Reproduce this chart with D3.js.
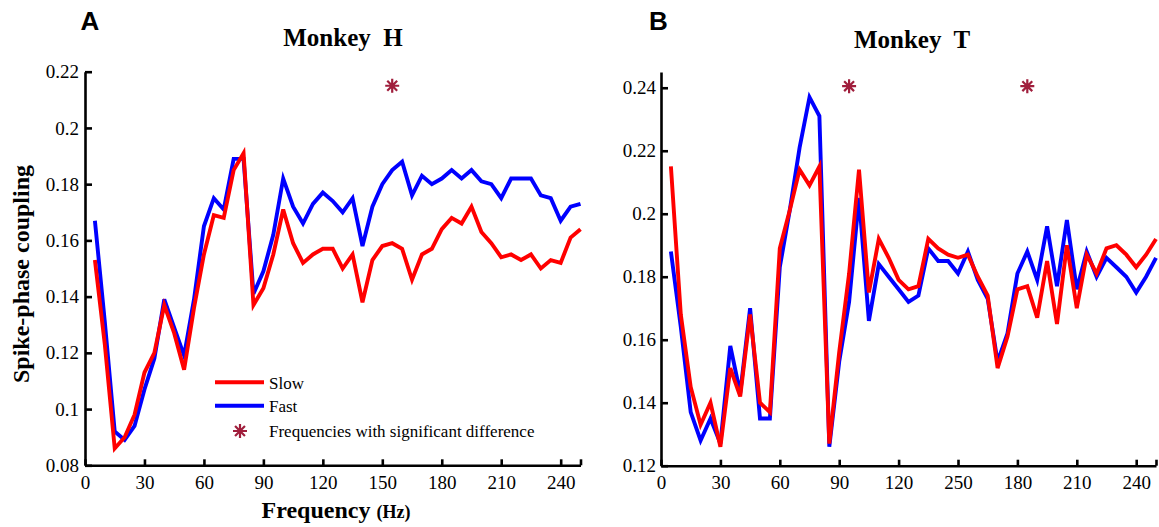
<!DOCTYPE html>
<html><head><meta charset="utf-8">
<script src="https://cdn.jsdelivr.net/npm/d3@7"></script>
<style>html,body{margin:0;padding:0;background:#fff;}svg{display:block;}</style>
</head><body>
<svg id="chart" width="1159" height="527"></svg>
<script>
// ---------- data ----------
const freq = [5,10,15,20,25,30,35,40,45,50,55,60,65,70,75,80,85,90,95,100,
  105,110,115,120,125,130,135,140,145,150,155,160,165,170,175,180,185,190,195,200,
  205,210,215,220,225,230,235,240,245,250];

const slowH = [0.153,0.123,0.086,0.090,0.098,0.113,0.120,0.137,0.127,0.114,
  0.136,0.155,0.169,0.168,0.185,0.191,0.137,0.143,0.155,0.171,
  0.159,0.152,0.155,0.157,0.157,0.150,0.155,0.138,0.153,0.158,
  0.159,0.157,0.146,0.155,0.157,0.164,0.168,0.166,0.172,0.163,
  0.159,0.154,0.155,0.153,0.155,0.150,0.153,0.152,0.161,0.164];
const fastH = [0.167,0.131,0.092,0.089,0.094,0.107,0.118,0.139,0.129,0.119,
  0.139,0.165,0.175,0.171,0.189,0.189,0.141,0.149,0.162,0.182,
  0.172,0.166,0.173,0.177,0.174,0.170,0.175,0.158,0.172,0.180,
  0.185,0.188,0.176,0.183,0.180,0.182,0.185,0.182,0.185,0.181,
  0.180,0.175,0.182,0.182,0.182,0.176,0.175,0.167,0.172,0.173];
const slowT = [0.215,0.168,0.145,0.133,0.140,0.126,0.151,0.142,0.168,0.140,
  0.137,0.189,0.201,0.214,0.209,0.215,0.127,0.156,0.181,0.214,
  0.175,0.192,0.186,0.179,0.176,0.177,0.192,0.189,0.187,0.186,
  0.187,0.180,0.174,0.151,0.161,0.176,0.177,0.167,0.185,0.165,
  0.190,0.170,0.187,0.181,0.189,0.190,0.187,0.183,0.187,0.192];
const fastT = [0.188,0.164,0.137,0.128,0.135,0.127,0.158,0.143,0.170,0.135,
  0.135,0.183,0.201,0.221,0.237,0.231,0.126,0.153,0.172,0.205,
  0.166,0.184,0.180,0.176,0.172,0.174,0.189,0.185,0.185,0.181,
  0.188,0.179,0.173,0.153,0.162,0.181,0.188,0.179,0.196,0.177,
  0.198,0.176,0.188,0.180,0.186,0.183,0.180,0.175,0.180,0.186];

const sigFreqH = [155];
const sigLevelH = [0.215];
const sigFreqT = [95, 185];
const sigLevelT = [0.2405, 0.2405];

const xTickValues = [0,30,60,90,120,150,180,210,240,250];
const xTickLabelsH = ["0","30","60","90","120","150","180","210","240",""];
const xTickLabelsT = ["0","30","60","90","120","250","180","210","240",""];
const yTicksH = [0.08,0.1,0.12,0.14,0.16,0.18,0.2,0.22];
const yTickLabelsH = ["0.08","0.1","0.12","0.14","0.16","0.18","0.2","0.22"];
const yTicksT = [0.12,0.14,0.16,0.18,0.2,0.22,0.24];
const yTickLabelsT = ["0.12","0.14","0.16","0.18","0.2","0.22","0.24"];

const seriesNames = ["Slow","Fast"];
const sigLabel = "Frequencies with significant difference";

// ---------- style ----------
const RED = "#ff0000", BLUE = "#0000ff", STAR = "#a01e3c";
const SERIF = "'Liberation Serif','Times New Roman',serif";
const SANS = "'Liberation Sans',Arial,sans-serif";

const svg = d3.select("#chart");

function starPath(r){
  const d = r*Math.SQRT1_2;
  return `M${-r},0H${r}M0,${-r}V${r}M${-d},${-d}L${d},${d}M${-d},${d}L${d},${-d}`;
}

function panel(cfg){
  const x = d3.scaleLinear().domain([0,250]).range(cfg.xr);
  const y = d3.scaleLinear().domain(cfg.yd).range(cfg.yr);
  const g = svg.append("g");

  const xAxis = d3.axisBottom(x).tickValues(xTickValues)
    .tickFormat((d,i)=>cfg.xLabels[i]).tickSizeInner(-6).tickSizeOuter(0).tickPadding(10);
  const yAxis = d3.axisLeft(y).tickValues(cfg.yTicks)
    .tickFormat((d,i)=>cfg.yLabels[i]).tickSizeInner(-7).tickSizeOuter(0).tickPadding(cfg.yPad);

  const lineGen = d3.line().x((d,i)=>x(freq[i])).y(d=>y(d)).curve(d3.curveLinear);

  g.append("path").datum(cfg.fast).attr("d", lineGen)
    .attr("fill","none").attr("stroke",BLUE).attr("stroke-width",3.9).attr("stroke-linejoin","miter");
  g.append("path").datum(cfg.slow).attr("d", lineGen)
    .attr("fill","none").attr("stroke",RED).attr("stroke-width",3.9).attr("stroke-linejoin","miter");

  const gx = g.append("g").attr("transform",`translate(0,${cfg.yr[0]})`).call(xAxis);
  const gy = g.append("g").attr("transform",`translate(${cfg.xr[0]},0)`).call(yAxis);
  [gx,gy].forEach(a=>{
    a.select(".domain").attr("stroke","#000").attr("stroke-width",2.6);
    a.selectAll(".tick line").attr("stroke","#000").attr("stroke-width",2.6);
    a.selectAll(".tick text").attr("font-family",SERIF).attr("font-size",19).attr("fill","#000");
  });

  cfg.sigF.forEach((f,i)=>{
    g.append("path").attr("d",starPath(7))
      .attr("transform",`translate(${x(f)},${y(cfg.sigL[i])})`)
      .attr("stroke",STAR).attr("stroke-width",2.2).attr("fill","none");
  });

  g.append("text").attr("x",cfg.letterX).attr("y",29.5).attr("text-anchor","middle")
    .attr("font-family",SANS).attr("font-weight","bold").attr("font-size",26).text(cfg.letter);
  g.append("text").attr("x",cfg.titleX).attr("y",cfg.titleY).attr("text-anchor","middle")
    .style("white-space","pre")
    .attr("font-family",SERIF).attr("font-weight","bold").attr("font-size",25).text(cfg.title);
  return {x,y,g};
}

panel({xr:[85,580.5], yd:[0.08,0.22], yr:[465.3,71.7], slow:slowH, fast:fastH,
  xLabels:xTickLabelsH, yTicks:yTicksH, yLabels:yTickLabelsH, yPad:6,
  sigF:sigFreqH, sigL:sigLevelH, letter:"A", letterX:90, title:"Monkey  H", titleX:343, titleY:46});
panel({xr:[661,1156], yd:[0.12,0.245], yr:[465.7,72], slow:slowT, fast:fastT,
  xLabels:xTickLabelsT, yTicks:yTicksT, yLabels:yTickLabelsT, yPad:5,
  sigF:sigFreqT, sigL:sigLevelT, letter:"B", letterX:658.5, title:"Monkey  T", titleX:912, titleY:48});

// axis titles
svg.append("text").attr("transform","translate(28.5,274) rotate(-90)")
  .attr("text-anchor","middle").attr("font-family",SERIF).attr("font-weight","bold")
  .attr("font-size",24).text("Spike-phase coupling");
const xt = svg.append("text").attr("x",336).attr("y",518).attr("text-anchor","middle")
  .attr("font-family",SERIF).attr("font-weight","bold").style("white-space","pre");
xt.append("tspan").attr("font-size",24).text("Frequency ");
xt.append("tspan").attr("font-size",18).text("(Hz)");

// legend
const leg = svg.append("g");
[[RED,382.3,388.5],[BLUE,405.7,412.3]].forEach((r,i)=>{
  leg.append("line").attr("x1",215).attr("x2",264).attr("y1",r[1]).attr("y2",r[1])
    .attr("stroke",r[0]).attr("stroke-width",3.9);
  leg.append("text").attr("x",269).attr("y",r[2]).attr("font-family",SERIF)
    .attr("font-size",17).text(seriesNames[i]);
});
leg.append("path").attr("d",starPath(7)).attr("transform","translate(240,431)")
  .attr("stroke",STAR).attr("stroke-width",2.2).attr("fill","none");
leg.append("text").attr("x",269).attr("y",436.5).attr("font-family",SERIF)
  .attr("font-size",17).text(sigLabel);
</script>
</body></html>
